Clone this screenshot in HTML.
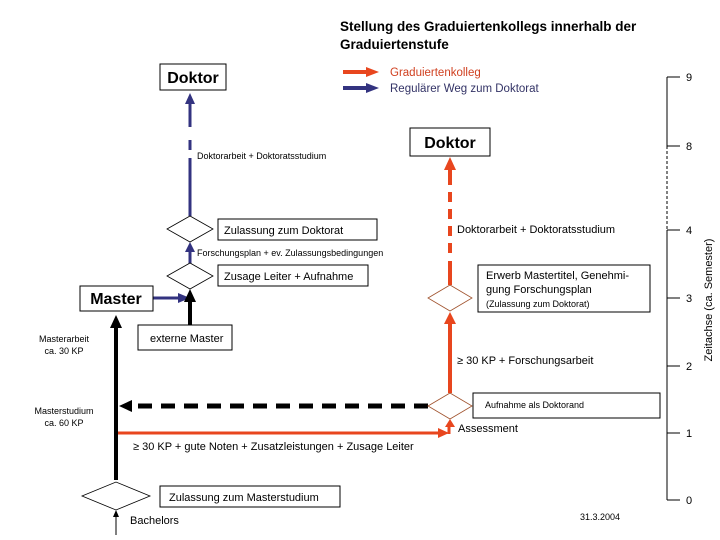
<!DOCTYPE html>
<html><head><meta charset="utf-8"><style>
body{margin:0;background:#fff}
svg{display:block;font-family:"Liberation Sans",sans-serif}
</style></head><body>
<svg width="720" height="540" viewBox="0 0 720 540">
<rect width="720" height="540" fill="#fff"/>
<!-- title -->
<text x="340" y="31" font-size="13.5" font-weight="bold">Stellung des Graduiertenkollegs innerhalb der</text>
<text x="340" y="49" font-size="13.5" font-weight="bold">Graduiertenstufe</text>
<!-- legend -->
<line x1="343" y1="72" x2="368" y2="72" stroke="#e8461e" stroke-width="4"/><path d="M366,67 L379,72 L366,77z" fill="#e8461e"/>
<line x1="343" y1="88" x2="368" y2="88" stroke="#333380" stroke-width="4"/><path d="M366,83 L379,88 L366,93z" fill="#333380"/>
<text x="390" y="76" font-size="11.5" fill="#d04020">Graduiertenkolleg</text>
<text x="390" y="92" font-size="11.5" fill="#333366">Regulärer Weg zum Doktorat</text>
<!-- axis -->
<g stroke="#000" stroke-width="1">
<line x1="667" y1="77" x2="667" y2="146"/>
<line x1="667" y1="146" x2="667" y2="230" stroke-dasharray="3,2"/>
<line x1="667" y1="230" x2="667" y2="500"/>
<line x1="667" y1="77" x2="680" y2="77"/><line x1="667" y1="146" x2="680" y2="146"/>
<line x1="667" y1="230" x2="680" y2="230"/><line x1="667" y1="298" x2="680" y2="298"/>
<line x1="667" y1="366" x2="680" y2="366"/><line x1="667" y1="433" x2="680" y2="433"/>
<line x1="667" y1="500" x2="680" y2="500"/>
</g>
<g font-size="11">
<text x="686" y="81">9</text><text x="686" y="150">8</text><text x="686" y="234">4</text>
<text x="686" y="302">3</text><text x="686" y="370">2</text><text x="686" y="437">1</text><text x="686" y="504">0</text>
</g>
<text transform="translate(712,300) rotate(-90)" font-size="11" text-anchor="middle">Zeitachse (ca. Semester)</text>
<!-- left doktor -->
<rect x="160" y="64" width="66" height="26" fill="#fff" stroke="#000"/>
<text x="193" y="83" font-size="16" font-weight="bold" text-anchor="middle">Doktor</text>
<g stroke="#333380" stroke-width="3">
<line x1="190" y1="104" x2="190" y2="127"/>
<line x1="190" y1="140" x2="190" y2="150"/>
<line x1="190" y1="158" x2="190" y2="216"/>
<line x1="190" y1="248" x2="190" y2="264"/>
<line x1="153" y1="298" x2="180" y2="298"/>
</g>
<path d="M185,104 L190,93 L195,104z" fill="#333380"/>
<path d="M185,252 L190,242 L195,252z" fill="#333380"/>
<path d="M178,293 L190,298 L178,303z" fill="#333380"/>
<text x="197" y="159" font-size="9">Doktorarbeit + Doktoratsstudium</text>
<path d="M167,229 L190,216 L213,229 L190,242z" fill="#fff" stroke="#000" stroke-width="0.8"/>
<path d="M167,276 L190,263 L213,276 L190,289z" fill="#fff" stroke="#000" stroke-width="0.8"/>
<rect x="218" y="219" width="159" height="21" fill="#fff" stroke="#000"/>
<text x="224" y="234" font-size="11">Zulassung zum Doktorat</text>
<text x="197" y="256" font-size="9">Forschungsplan + ev. Zulassungsbedingungen</text>
<rect x="218" y="265" width="150" height="21" fill="#fff" stroke="#000"/>
<text x="224" y="280" font-size="11">Zusage Leiter + Aufnahme</text>
<!-- master -->
<rect x="80" y="286" width="73" height="25" fill="#fff" stroke="#000"/>
<text x="116" y="304" font-size="16" font-weight="bold" text-anchor="middle">Master</text>
<line x1="190" y1="325" x2="190" y2="300" stroke="#000" stroke-width="4"/>
<path d="M184,302 L190,289 L196,302z" fill="#000"/>
<rect x="138" y="325" width="94" height="25" fill="#fff" stroke="#000"/>
<text x="150" y="342" font-size="11">externe Master</text>
<line x1="116" y1="325" x2="116" y2="480" stroke="#000" stroke-width="4"/>
<path d="M110,328 L116,315 L122,328z" fill="#000"/>
<text x="64" y="342" font-size="9" text-anchor="middle">Masterarbeit</text>
<text x="64" y="354" font-size="9" text-anchor="middle">ca. 30 KP</text>
<text x="64" y="414" font-size="9" text-anchor="middle">Masterstudium</text>
<text x="64" y="426" font-size="9" text-anchor="middle">ca. 60 KP</text>
<!-- dashed black -->
<line x1="428" y1="406" x2="130" y2="406" stroke="#000" stroke-width="5" stroke-dasharray="14,9"/>
<path d="M132,400 L119,406 L132,412z" fill="#000"/>
<!-- red horizontal -->
<line x1="118" y1="433" x2="440" y2="433" stroke="#e8461e" stroke-width="3"/>
<path d="M438,428 L449,433 L438,438z" fill="#e8461e"/>
<line x1="449" y1="434" x2="449" y2="426" stroke="#e8461e" stroke-width="3"/>
<path d="M445,427 L450,419 L455,427z" fill="#e8461e"/>
<text x="458" y="432" font-size="11">Assessment</text>
<text x="133" y="450" font-size="11">≥ 30 KP  + gute Noten + Zusatzleistungen + Zusage Leiter</text>
<!-- Aufnahme -->
<path d="M428,406 L450,393 L472,406 L450,419z" fill="#fff" stroke="#a0522d" stroke-width="0.8"/>
<rect x="473" y="393" width="187" height="25" fill="#fff" stroke="#000"/>
<text x="485" y="408" font-size="9">Aufnahme als Doktorand</text>
<!-- red vertical -->
<line x1="450" y1="393" x2="450" y2="322" stroke="#e8461e" stroke-width="4"/>
<path d="M444,324 L450,312 L456,324z" fill="#e8461e"/>
<text x="457" y="364" font-size="11">≥ 30 KP + Forschungsarbeit</text>
<path d="M428,298 L450,285 L472,298 L450,311z" fill="#fff" stroke="#a0522d" stroke-width="0.8"/>
<rect x="478" y="265" width="172" height="47" fill="#fff" stroke="#000"/>
<text x="486" y="279" font-size="11">Erwerb Mastertitel, Genehmi-</text>
<text x="486" y="293" font-size="11">gung Forschungsplan</text>
<text x="486" y="307" font-size="9">(Zulassung zum Doktorat)</text>
<g stroke="#e8461e" stroke-width="4">
<line x1="450" y1="285" x2="450" y2="261"/>
<line x1="450" y1="253" x2="450" y2="243"/>
<line x1="450" y1="236" x2="450" y2="226"/>
<line x1="450" y1="219" x2="450" y2="209"/>
<line x1="450" y1="202" x2="450" y2="192"/>
<line x1="450" y1="185" x2="450" y2="168"/>
</g>
<path d="M444,170 L450,157 L456,170z" fill="#e8461e"/>
<text x="457" y="233" font-size="11">Doktorarbeit + Doktoratsstudium</text>
<rect x="410" y="128" width="80" height="28" fill="#fff" stroke="#000"/>
<text x="450" y="148" font-size="16" font-weight="bold" text-anchor="middle">Doktor</text>
<!-- bottom -->
<path d="M82,496 L116,482 L150,496 L116,510z" fill="#fff" stroke="#000" stroke-width="0.8"/>
<line x1="116" y1="535" x2="116" y2="516" stroke="#000" stroke-width="1"/>
<path d="M113,517 L116,510 L119,517z" fill="#000"/>
<text x="130" y="524" font-size="11">Bachelors</text>
<rect x="160" y="486" width="180" height="21" fill="#fff" stroke="#000"/>
<text x="169" y="501" font-size="11">Zulassung zum Masterstudium</text>
<text x="580" y="520" font-size="9">31.3.2004</text>
</svg>
</body></html>
